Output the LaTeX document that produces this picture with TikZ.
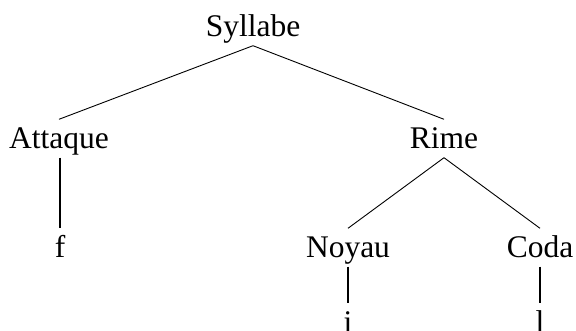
\documentclass[tikz,border=0pt]{standalone}
\usepackage{fontspec}
\setmainfont{Liberation Serif}
\begin{document}
\begin{tikzpicture}[x=1pt,y=-1pt,
  treenode/.style={anchor=base,inner xsep=0pt,inner ysep=1.5pt,
    text height=28pt,text depth=7pt,font=\fontsize{31.5}{36}\selectfont},
  branch/.style={line width=0.9pt},
  stem/.style={line width=1.5pt}]
  \useasboundingbox (0,0) rectangle (576,331);

  % syllable structure tree
  \node[treenode] (syl)   at (253,37)  {Syllabe};
  \node[treenode] (att)   at (59,149)  {Attaque};
  \node[treenode] (rime)  at (444,149) {Rime};
  \node[treenode] (f)     at (60,258)  {f};
  \node[treenode] (noy)   at (348,258) {Noyau};
  \node[treenode] (coda)  at (540,258) {Coda};
  \node[treenode] (i)     at (348,333) {i};
  \node[treenode] (l)     at (540,333) {l};

  \draw[branch] (syl.south) -- (att.north);
  \draw[branch] (syl.south) -- (rime.north);
  \draw[branch] (rime.south) -- (noy.north);
  \draw[branch] (rime.south) -- (coda.north);

  \draw[stem] (att.south -| f.north) -- (f.north);
  \draw[stem] (noy.south) -- (i.north);
  \draw[stem] (coda.south) -- (l.north);
\end{tikzpicture}
\end{document}
